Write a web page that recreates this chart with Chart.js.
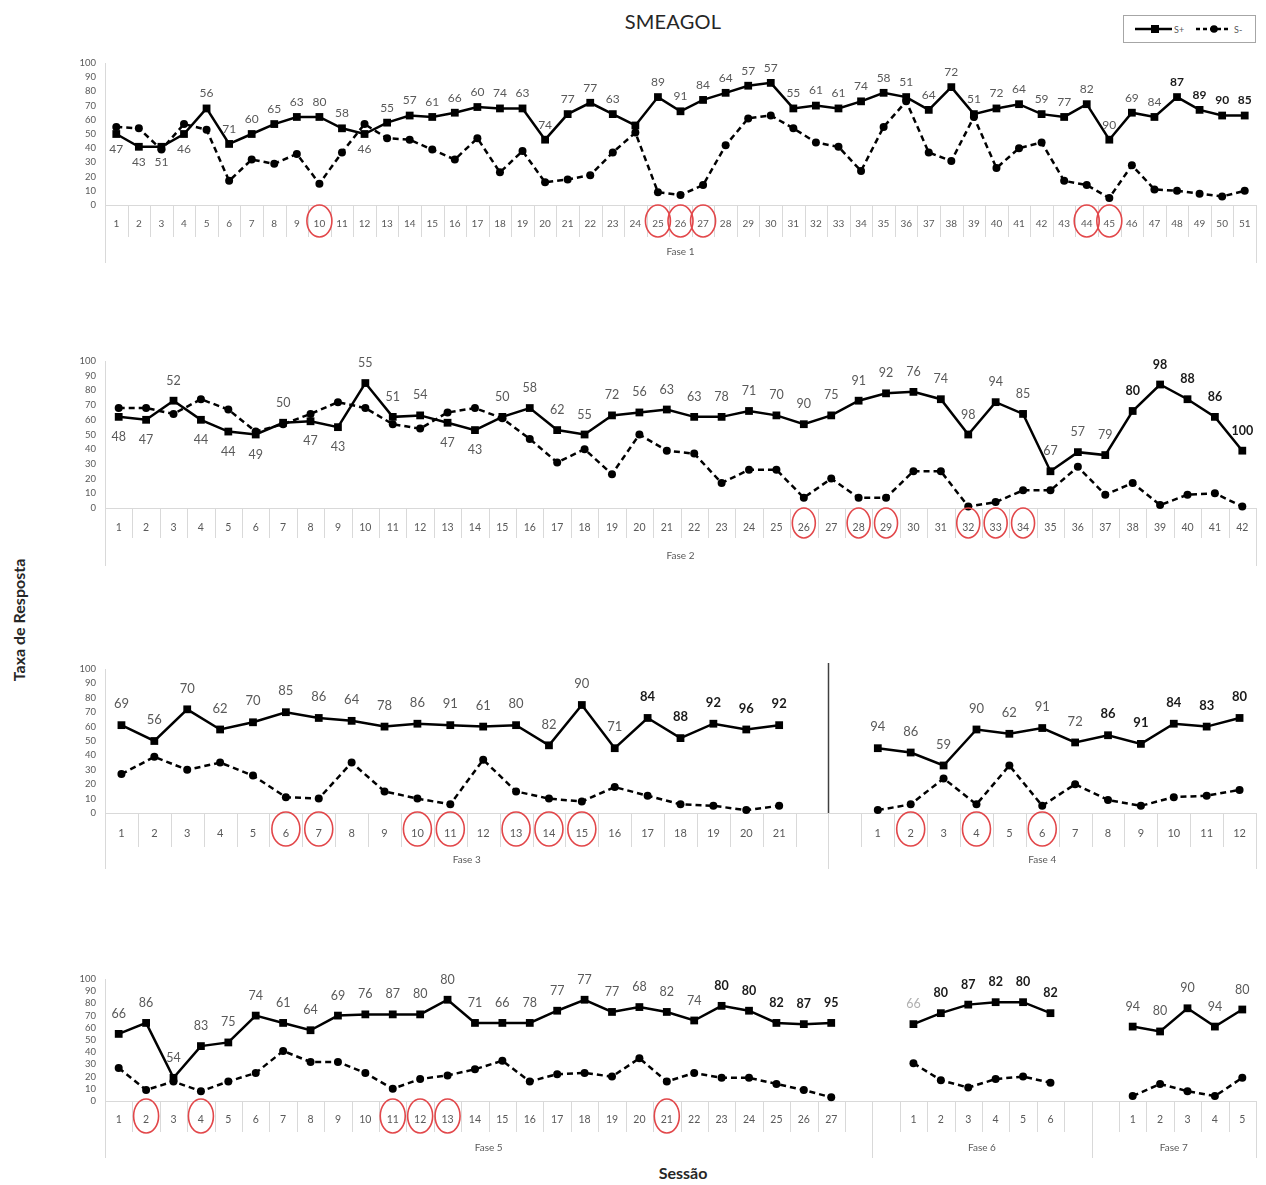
<!DOCTYPE html>
<html>
<head>
<meta charset="utf-8">
<script src="https://cdn.jsdelivr.net/npm/chart.js@4.4.1/dist/chart.umd.min.js"></script>
<style>
  html, body { margin: 0; padding: 0; background: #fff; }
  body { width: 1266px; height: 1185px; position: relative; overflow: hidden; font-family: Lato, "Open Sans", sans-serif; }
  canvas { position: absolute; left: 0; }
  #title { position: absolute; left: 573px; top: 9px; width: 200px; text-align: center; font-size: 20px; color: #262626; letter-spacing: 0.2px; }
  #ytitle { position: absolute; left: 18px; top: 620px; transform: translate(-50%, -50%) rotate(-90deg); white-space: nowrap; font-weight: bold; font-size: 16px; color: #262626; }
  #xtitle { position: absolute; left: 683px; top: 1172px; transform: translate(-50%, -50%); white-space: nowrap; font-weight: bold; font-size: 16px; color: #262626; }
  #legend { position: absolute; left: 1123px; top: 15px; width: 131px; height: 26px; border: 1px solid #a6a6a6; }
</style>
</head>
<body>
<div id="title">SMEAGOL</div>
<div id="legend">
  <svg width="131" height="26" xmlns="http://www.w3.org/2000/svg">
    <line x1="11" y1="13" x2="48" y2="13" stroke="#000" stroke-width="2.5"/>
    <rect x="27" y="9" width="8" height="8" fill="#000"/>
    <text x="50" y="16.5" font-size="9" font-family="Lato, sans-serif" fill="#595959">S+</text>
    <line x1="72" y1="13" x2="107" y2="13" stroke="#000" stroke-width="2.5" stroke-dasharray="4,3"/>
    <circle cx="90" cy="13" r="3.8" fill="#000"/>
    <text x="110" y="16.5" font-size="9" font-family="Lato, sans-serif" fill="#595959">S-</text>
  </svg>
</div>
<div id="ytitle">Taxa de Resposta</div>
<div id="xtitle">Sessão</div>

<canvas id="row1" width="1266" height="230" style="top:40px"></canvas>
<canvas id="row2" width="1266" height="235" style="top:335px"></canvas>
<canvas id="row3" width="1266" height="230" style="top:645px"></canvas>
<canvas id="row4" width="1266" height="210" style="top:955px"></canvas>

<script>
// ---- Response rate per session (S+ and S-) and accuracy labels (%) ----
const fase1SPlus  = [50,41,41,50,68,43,50,57,62,62,54,50,58,63,62,65,69,68,68,46,64,72,64,56,76,66,74,79,84,86,68,70,68,73,79,76,67,83,64,68,71,64,62,71,46,65,62,76,67,63,63];
const fase1SMinus = [55,54,39,57,53,17,32,29,36,15,37,57,47,46,39,32,47,23,38,16,18,21,37,51,9,7,14,42,61,63,54,44,41,24,55,73,37,31,62,26,40,44,17,14,5,28,11,10,8,6,10];
const fase1Acc    = [47,43,51,46,56,71,60,65,63,80,58,46,55,57,61,66,60,74,63,74,77,77,63,null,89,91,84,64,57,57,55,61,61,74,58,51,64,72,51,72,64,59,77,82,90,69,84,87,89,90,85];

const fase2SPlus  = [62,60,73,60,52,50,58,59,55,85,62,63,58,53,62,68,53,50,63,65,67,62,62,66,63,57,63,73,78,79,74,50,72,64,25,38,36,66,84,74,62,39];
const fase2SMinus = [68,68,64,74,67,52,57,64,72,68,57,54,65,68,61,47,31,40,23,50,39,37,17,26,26,7,20,7,7,25,25,1,4,12,12,28,9,17,2,9,10,1];
const fase2Acc    = [48,47,52,44,44,49,50,47,43,55,51,54,47,43,50,58,62,55,72,56,63,63,78,71,70,90,75,91,92,76,74,98,94,85,67,57,79,80,98,88,86,100];

const fase3SPlus  = [61,50,72,58,63,70,66,64,60,62,61,60,61,47,75,45,66,52,62,58,61];
const fase3SMinus = [27,39,30,35,26,11,10,35,15,10,6,37,15,10,8,18,12,6,5,2,5];
const fase3Acc    = [69,56,70,62,70,85,86,64,78,86,91,61,80,82,90,71,84,88,92,96,92];

const fase4SPlus  = [45,42,33,58,55,59,49,54,48,62,60,66];
const fase4SMinus = [2,6,24,6,33,5,20,9,5,11,12,16];
const fase4Acc    = [94,86,59,90,62,91,72,86,91,84,83,80];

const fase5SPlus  = [55,64,19,45,48,70,64,58,70,71,71,71,83,64,64,64,74,83,73,77,73,66,78,74,64,63,64];
const fase5SMinus = [27,9,16,8,16,23,41,32,32,23,10,18,21,26,33,16,22,23,20,35,16,23,19,19,14,9,3];
const fase5Acc    = [66,86,54,83,75,74,61,64,69,76,87,80,80,71,66,78,77,77,77,68,82,74,80,80,82,87,95];

const fase6SPlus  = [63,72,79,81,81,72];
const fase6SMinus = [31,17,11,18,20,15];
const fase6Acc    = [66,80,87,82,80,82];

const fase7SPlus  = [61,57,76,61,75];
const fase7SMinus = [4,14,8,4,19];
const fase7Acc    = [94,80,90,94,80];

// sessions circled in red
const fase1Marked = [10,25,26,27,44,45];
const fase2Marked = [26,28,29,32,33,34];
const fase3Marked = [6,7,10,11,13,14,15];
const fase4Marked = [2,4,6];
const fase5Marked = [2,4,11,12,13,21];
const fase6Marked = [];
const fase7Marked = [];

// y axis tick values
const yTicks = [0,10,20,30,40,50,60,70,80,90,100];

// ---- label styling per phase (session numbers) ----
const fase1Below = [1,2,3,4,12];
const fase2Below = [1,2,4,5,6,8,9,13,14];
const boldSessions = { f1:[48,49,50,51], f2:[38,39,40,41,42], f3:[17,18,19,20,21], f4:[8,9,10,11,12], f5:[23,24,25,26,27], f6:[2,3,4,5,6], f7:[] };

const phases = {
  f1: { name:'Fase 1', sp:fase1SPlus, sm:fase1SMinus, acc:fase1Acc, marked:fase1Marked, below:fase1Below, bold:boldSessions.f1, faint:[] },
  f2: { name:'Fase 2', sp:fase2SPlus, sm:fase2SMinus, acc:fase2Acc, marked:fase2Marked, below:fase2Below, bold:boldSessions.f2, faint:[] },
  f3: { name:'Fase 3', sp:fase3SPlus, sm:fase3SMinus, acc:fase3Acc, marked:fase3Marked, below:[], bold:boldSessions.f3, faint:[] },
  f4: { name:'Fase 4', sp:fase4SPlus, sm:fase4SMinus, acc:fase4Acc, marked:fase4Marked, below:[], bold:boldSessions.f4, faint:[] },
  f5: { name:'Fase 5', sp:fase5SPlus, sm:fase5SMinus, acc:fase5Acc, marked:fase5Marked, below:[], bold:boldSessions.f5, faint:[] },
  f6: { name:'Fase 6', sp:fase6SPlus, sm:fase6SMinus, acc:fase6Acc, marked:fase6Marked, below:[], bold:boldSessions.f6, faint:[1] },
  f7: { name:'Fase 7', sp:fase7SPlus, sm:fase7SMinus, acc:fase7Acc, marked:fase7Marked, below:[], bold:boldSessions.f7, faint:[] }
};

const FONT = 'Lato, "Open Sans", sans-serif';

// Panel layout: canvas top, y of the 100 tick, y of the 0 axis, canvas bottom
const rows = [
  { id:'row1', top:40,  plotTop:63,  plotBottom:205,  bottom:270,  parts:[{k:'f1',lead:0,trail:0}],
    tickFont:10, tickPad:13, labelFont:12, gap:15, sepDepth:32, boxDepth:58, groupY:47, ringY:16, ringRx:12.5, ringRy:16, phaseLine:false },
  { id:'row2', top:335, plotTop:361, plotBottom:508,  bottom:570,  parts:[{k:'f2',lead:0,trail:0}],
    tickFont:10.5, tickPad:13, labelFont:12.5, gap:20, sepDepth:30, boxDepth:58, groupY:48, ringY:15, ringRx:11.5, ringRy:15, phaseLine:false },
  { id:'row3', top:645, plotTop:669, plotBottom:813,  bottom:875,  parts:[{k:'f3',lead:0,trail:1},{k:'f4',lead:1,trail:0}],
    tickFont:11, tickPad:14, labelFont:13, gap:21, sepDepth:34, boxDepth:56, groupY:47, ringY:16, ringRx:14, ringRy:17, phaseLine:true },
  { id:'row4', top:955, plotTop:979, plotBottom:1101, bottom:1165, parts:[{k:'f5',lead:0,trail:1},{k:'f6',lead:1,trail:1},{k:'f7',lead:1,trail:0}],
    tickFont:10.5, tickPad:12, labelFont:12.5, gap:20, sepDepth:31, boxDepth:57, groupY:47, ringY:15, ringRx:12.5, ringRy:17, phaseLine:false }
];

// Combine the phases of one panel onto a single category axis, with empty slots between phases
function buildPanel(parts) {
  const cats = [], sp = [], sm = [], acc = [], groups = [], rings = [], below = new Set(), bold = new Set(), faint = new Set();
  parts.forEach(p => {
    const ph = phases[p.k];
    const start = cats.length;
    for (let i = 0; i < p.lead; i++) { cats.push(''); sp.push(null); sm.push(null); acc.push(null); }
    ph.sp.forEach((v, i) => {
      const slot = cats.length, s = i + 1;
      cats.push(String(s)); sp.push(v); sm.push(ph.sm[i]); acc.push(ph.acc[i]);
      if (ph.marked.includes(s)) rings.push(slot);
      if (ph.below.includes(s)) below.add(slot);
      if (ph.bold.includes(s)) bold.add(slot);
      if (ph.faint.includes(s)) faint.add(slot);
    });
    for (let i = 0; i < p.trail; i++) { cats.push(''); sp.push(null); sm.push(null); acc.push(null); }
    groups.push({ name: ph.name, start, end: cats.length - 1 });
  });
  return { cats, sp, sm, acc, groups, rings, below, bold, faint };
}

// Multi-level category axis, phase separators, red rings and value labels
const panelDecor = {
  id: 'panelDecor',
  afterDatasetsDraw(chart, args, o) {
    const { ctx, chartArea: ca, scales: { x } } = chart;
    const P = o.panel, R = o.row;
    const n = P.cats.length;
    const step = (ca.right - ca.left) / n;
    const edge = i => ca.left + step * i;
    const axisY = ca.bottom;
    ctx.save();
    ctx.lineWidth = 1;
    ctx.strokeStyle = '#d9d9d9';
    // category separators
    for (let i = 1; i < n; i++) {
      const ex = Math.round(edge(i)) + 0.5;
      ctx.beginPath(); ctx.moveTo(ex, axisY); ctx.lineTo(ex, axisY + R.sepDepth); ctx.stroke();
    }
    // group boundaries
    const bounds = new Set([0]);
    P.groups.forEach(g => bounds.add(g.end + 1));
    bounds.forEach(b => {
      const ex = Math.round(edge(b)) + 0.5;
      ctx.beginPath(); ctx.moveTo(ex, axisY); ctx.lineTo(ex, axisY + R.boxDepth); ctx.stroke();
    });
    // phase change line through the plot
    if (R.phaseLine) {
      P.groups.slice(0, -1).forEach(g => {
        const ex = Math.round(edge(g.end + 1)) + 0.5;
        ctx.strokeStyle = '#404040'; ctx.lineWidth = 1.5;
        ctx.beginPath(); ctx.moveTo(ex, ca.top - 6); ctx.lineTo(ex, axisY); ctx.stroke();
      });
    }
    // group labels
    ctx.fillStyle = '#595959';
    ctx.font = `10px ${FONT}`;
    ctx.textAlign = 'center'; ctx.textBaseline = 'middle';
    P.groups.forEach(g => {
      const cx = (edge(g.start) + edge(g.end + 1)) / 2;
      ctx.fillText(g.name, cx, axisY + R.groupY);
    });
    // red rings around highlighted sessions
    ctx.strokeStyle = '#e2474a'; ctx.lineWidth = 1.6;
    P.rings.forEach(slot => {
      const cx = x.getPixelForValue(slot);
      ctx.beginPath(); ctx.ellipse(cx, axisY + R.ringY, R.ringRx, R.ringRy, 0, 0, Math.PI * 2); ctx.stroke();
    });
    // accuracy labels on S+ points
    const meta = chart.getDatasetMeta(0);
    meta.data.forEach((pt, i) => {
      const v = P.acc[i];
      if (v == null) return;
      const isBold = P.bold.has(i);
      ctx.font = `${isBold ? 'bold ' : ''}${R.labelFont}px ${FONT}`;
      ctx.fillStyle = isBold ? '#1a1a1a' : (P.faint.has(i) ? '#b0b0b0' : '#595959');
      const y = P.below.has(i) ? pt.y + R.gap : pt.y - R.gap;
      ctx.fillText(String(v), pt.x, y);
    });
    ctx.restore();
  }
};

rows.forEach(R => {
  const P = buildPanel(R.parts);
  const axisH = R.bottom - R.plotBottom;
  new Chart(document.getElementById(R.id), {
    type: 'line',
    data: {
      labels: P.cats,
      datasets: [
        { label: 'S+', data: P.sp, borderColor: '#000', backgroundColor: '#000', borderWidth: 2.5,
          pointStyle: 'rect', pointRadius: 5.5, pointHoverRadius: 5.5, pointBorderWidth: 0, spanGaps: false, tension: 0, clip: false },
        { label: 'S-', data: P.sm, borderColor: '#000', backgroundColor: '#000', borderWidth: 2.5, borderDash: [6, 4],
          pointStyle: 'circle', pointRadius: 4, pointHoverRadius: 4, pointBorderWidth: 0, spanGaps: false, tension: 0, clip: false }
      ]
    },
    options: {
      responsive: false, animation: false, devicePixelRatio: 1,
      events: [],
      layout: { padding: { top: R.plotTop - R.top, right: 10, bottom: 0, left: 0 } },
      plugins: {
        legend: { display: false }, tooltip: { enabled: false }, title: { display: false },
        panelDecor: { panel: P, row: R }
      },
      scales: {
        x: {
          type: 'category', offset: true,
          grid: { display: false, drawTicks: false },
          border: { display: true, color: '#d9d9d9', width: 1 },
          ticks: { autoSkip: false, maxRotation: 0, minRotation: 0, padding: R.tickPad, color: '#595959', font: { family: FONT, size: R.tickFont } },
          afterFit(s) { s.height = axisH; }
        },
        y: {
          min: 0, max: 100,
          grid: { display: false, drawTicks: false },
          border: { display: true, color: '#d9d9d9', width: 1 },
          ticks: { autoSkip: false, padding: 9, color: '#595959', font: { family: FONT, size: 9.5 } },
          afterBuildTicks(s) { s.ticks = yTicks.map(v => ({ value: v })); },
          afterFit(s) { s.width = 105; }
        }
      }
    },
    plugins: [panelDecor]
  });
});
</script>
</body>
</html>
